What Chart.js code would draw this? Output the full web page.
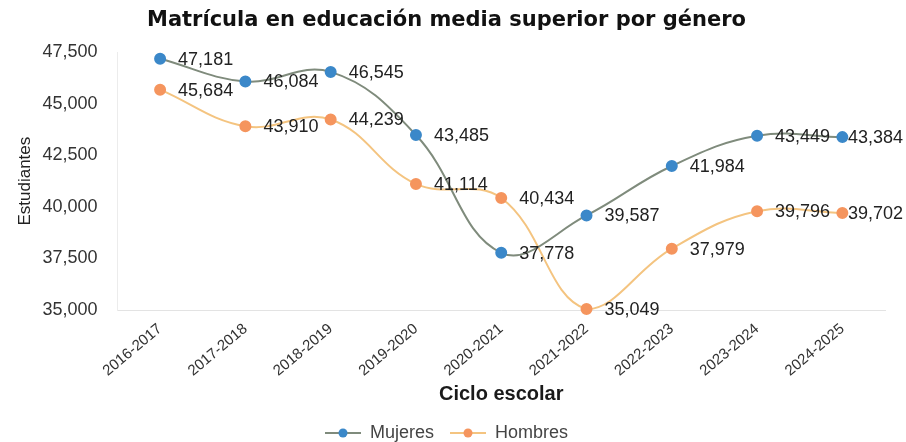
<!DOCTYPE html>
<html>
<head>
<meta charset="utf-8">
<script src="https://cdn.jsdelivr.net/npm/chart.js@4.4.1/dist/chart.umd.min.js"></script>
<style>
  html, body { margin: 0; padding: 0; background: #fff; }
  #wrap { width: 906px; height: 442px; }
</style>
</head>
<body>
<div id="wrap"><canvas id="matricula"></canvas></div>
<script>
    "use strict";

    // Datos
    var ciclos = ["2016-2017", "2017-2018", "2018-2019", "2019-2020", "2020-2021",
                  "2021-2022", "2022-2023", "2023-2024", "2024-2025"];
    var mujeres = [47181, 46084, 46545, 43485, 37778, 39587, 41984, 43449, 43384];
    var hombres = [45684, 43910, 44239, 41114, 40434, 35049, 37979, 39796, 39702];
    var yTicks = [35000, 37500, 40000, 42500, 45000, 47500];

    var fmt = function (v) { return v.toLocaleString("en-US"); };
    var ARIAL = "Arial, 'Liberation Sans', sans-serif";

    // Legend marker: short line with dot in the middle
    var legendMarker = function (lineColor, dotColor) {
        var c = document.createElement("canvas");
        c.width = 36; c.height = 12;
        var g = c.getContext("2d");
        g.strokeStyle = lineColor;
        g.lineWidth = 2;
        g.beginPath(); g.moveTo(0, 6); g.lineTo(36, 6); g.stroke();
        g.fillStyle = dotColor;
        g.beginPath(); g.arc(18, 6, 4.5, 0, Math.PI * 2); g.fill();
        return c;
    };

    // Value labels right of each point (pulled back in when they would leave the canvas)
    var valueLabels = {
        id: "valueLabels",
        afterDatasetsDraw: function (chart) {
            var ctx = chart.ctx;
            ctx.save();
            ctx.font = "18px " + ARIAL;
            ctx.fillStyle = "#222";
            ctx.textAlign = "left";
            ctx.textBaseline = "middle";
            chart.data.datasets.forEach(function (ds, i) {
                chart.getDatasetMeta(i).data.forEach(function (pt, j) {
                    var txt = fmt(ds.data[j]);
                    var x = Math.min(pt.x + 18, chart.width - ctx.measureText(txt).width - 3);
                    ctx.fillText(txt, x, pt.y + 1);
                });
            });
            ctx.restore();
        }
    };

    var ctx1 = document.getElementById("matricula").getContext("2d");
    var myChart1 = new Chart(ctx1, {
        type: "line",
        data: {
            labels: ciclos,
            datasets: [{
                    label: "Mujeres",
                    data: mujeres,
                    borderColor: "#7f8b7c",
                    backgroundColor: "#3b88c9",
                    pointBackgroundColor: "#3b88c9",
                    pointBorderColor: "#3b88c9",
                    pointRadius: 5,
                    borderWidth: 2,
                    tension: 0.4,
                    clip: false
                },
                {
                    label: "Hombres",
                    data: hombres,
                    borderColor: "#f4c480",
                    backgroundColor: "#f5955e",
                    pointBackgroundColor: "#f5955e",
                    pointBorderColor: "#f5955e",
                    pointRadius: 5,
                    borderWidth: 2,
                    tension: 0.4,
                    clip: false
                }
            ]
        },
        options: {
            responsive: true,
            maintainAspectRatio: false,
            animation: false,
            layout: { padding: { left: 8, right: 21, top: 8, bottom: -10 } },
            plugins: {
                title: {
                    display: true,
                    text: "Matrícula en educación media superior por género",
                    color: "#111",
                    font: { family: "'DejaVu Sans', Verdana, sans-serif", size: 21, weight: "bold" },
                    padding: { top: 0, bottom: 19 }
                },
                legend: {
                    position: "bottom",
                    labels: {
                        usePointStyle: true,
                        pointStyleWidth: 36,
                        color: "#444",
                        font: { family: ARIAL, size: 18 },
                        padding: 16,
                        generateLabels: function (chart) {
                            var items = Chart.defaults.plugins.legend.labels.generateLabels(chart);
                            var marks = [legendMarker("#7f8b7c", "#3b88c9"), legendMarker("#f4c480", "#f5955e")];
                            items.forEach(function (it, k) { it.pointStyle = marks[k]; });
                            return items;
                        }
                    }
                },
                tooltip: { enabled: false }
            },
            scales: {
                x: {
                    offset: true,
                    grid: { display: false },
                    border: { color: "#e3e3e3" },
                    ticks: {
                        color: "#333",
                        font: { family: ARIAL, size: 15 },
                        minRotation: 40,
                        maxRotation: 40,
                        padding: 2
                    },
                    title: {
                        display: true,
                        text: "Ciclo escolar",
                        color: "#1a1a1a",
                        font: { family: ARIAL, size: 20, weight: "bold" },
                        padding: { top: 0, bottom: 2 }
                    }
                },
                y: {
                    min: 35000,
                    max: 47500,
                    grid: { display: false },
                    border: { color: "#ececec" },
                    afterBuildTicks: function (axis) {
                        axis.ticks = yTicks.map(function (v) { return { value: v }; });
                    },
                    ticks: {
                        color: "#333",
                        font: { family: ARIAL, size: 18 },
                        padding: 12,
                        callback: function (v) { return fmt(v); }
                    },
                    title: {
                        display: true,
                        text: "Estudiantes",
                        color: "#222",
                        font: { family: ARIAL, size: 17 },
                        padding: { top: 7, bottom: -5 }
                    }
                }
            }
        },
        plugins: [valueLabels]
    });
</script>
</body>
</html>
